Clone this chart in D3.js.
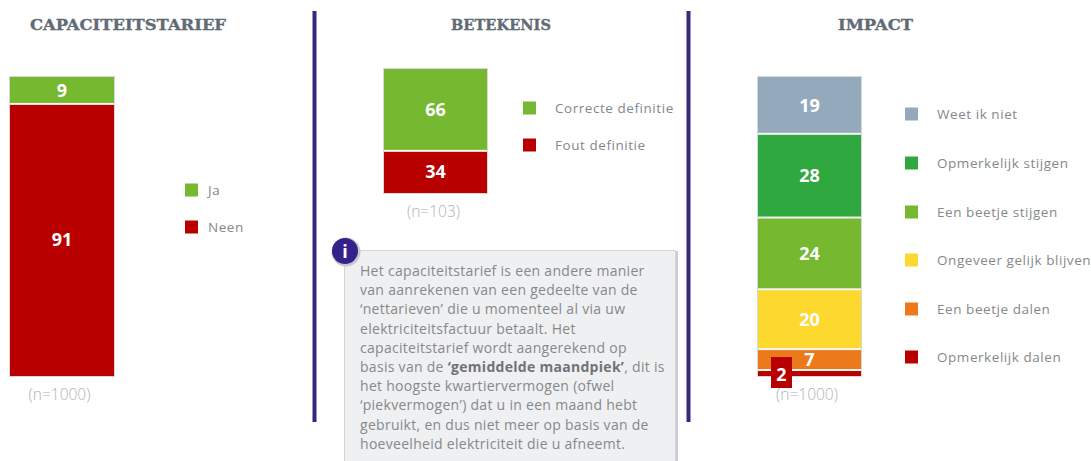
<!DOCTYPE html>
<html><head><meta charset="utf-8">
<script src="https://cdnjs.cloudflare.com/ajax/libs/d3/7.8.5/d3.min.js"></script>
<style>
html,body{margin:0;padding:0;background:#fff;overflow:hidden}
svg{display:block}
text{font-family:"Open Sans",sans-serif}
</style></head><body><svg id="c" width="1091" height="461"></svg>
<script>
const titles = ["CAPACITEITSTARIEF","BETEKENIS","IMPACT"];
const cat1 = ["Ja","Neen"];
const val1 = [9,91];
const cat2 = ["Correcte definitie","Fout definitie"];
const val2 = [66,34];
const cat3 = ["Weet ik niet","Opmerkelijk stijgen","Een beetje stijgen","Ongeveer gelijk blijven","Een beetje dalen","Opmerkelijk dalen"];
const val3 = [19,28,24,20,7,2];
const ns = ["(n=1000)","(n=103)","(n=1000)"];
const colors = {"Ja":"#76b82f","Neen":"#b90000","Correcte definitie":"#76b82f","Fout definitie":"#b90000",
 "Weet ik niet":"#95a9bd","Opmerkelijk stijgen":"#2ea83f","Een beetje stijgen":"#76b82f",
 "Ongeveer gelijk blijven":"#fdd82e","Een beetje dalen":"#ec7a1c","Opmerkelijk dalen":"#b90000"};
const infoLines = [
 [["Het capaciteitstarief is een andere manier",0]],
 [["van aanrekenen van een gedeelte van de",0]],
 [["‘nettarieven’ die u momenteel al via uw",0]],
 [["elektriciteitsfactuur betaalt. Het",0]],
 [["capaciteitstarief wordt aangerekend op",0]],
 [["basis van de ",0],["‘gemiddelde maandpiek’",1],[", dit is",0]],
 [["het hoogste kwartiervermogen (ofwel",0]],
 [["‘piekvermogen’) dat u in een maand hebt",0]],
 [["gebruikt, en dus niet meer op basis van de",0]],
 [["hoeveelheid elektriciteit die u afneemt.",0]]
];

const svg = d3.select("#c");
const grey="#83888c";

// titles
[[128,titles[0],196],[501,titles[1],100],[875.5,titles[2],75]].forEach(([x,t,w])=>{
  svg.append("text").attr("x",x).attr("y",30).attr("text-anchor","middle")
   .attr("textLength",w).attr("lengthAdjust","spacingAndGlyphs")
   .style("font-family","'DejaVu Serif',serif").style("font-weight","700").style("font-size","15.5px")
   .attr("stroke","#616b74").attr("stroke-width",0.35)
   .attr("fill","#616b74").text(t);
});
// dividers
[314.5,688.5].forEach(x=>svg.append("rect").attr("x",x-2).attr("y",11).attr("width",4).attr("height",411).attr("fill","#35287f"));

function stackedBar(cfg){
  const {cats,vals,x0,x1,y0,y1,legX,legYs,nLabel,nY,nX,textX}=cfg;
  const y=d3.scaleLinear().domain([0,100]).range([y0,y1]);
  const row={}; cats.forEach((c,i)=>row[c]=vals[i]);
  const series=d3.stack().keys(cats)([row]);
  svg.append("rect").attr("x",x0-0.5).attr("y",y0-0.5).attr("width",x1-x0+1).attr("height",y1-y0+1)
     .attr("fill","#f4f6f1").attr("stroke","#d6d9d6").attr("stroke-width",1);
  const g=svg.append("g");
  const last=series.length-1;
  g.selectAll("rect").data(series).join("rect")
    .attr("x",x0).attr("width",x1-x0)
    .attr("y",d=>y(d[0][0])+(d.index>0?1:0))
    .attr("height",d=>y(d[0][1])-y(d[0][0])-(d.index>0?1:0)-(d.index<last?1:0))
    .attr("fill",d=>colors[d.key]);
  g.selectAll("text").data(series.filter(d=>d[0][1]-d[0][0]>=cfg.minLabel)).join("text")
    .attr("x",(x0+x1)/2).attr("y",d=>(y(d[0][0])+y(d[0][1]))/2+6.5)
    .attr("text-anchor","middle").attr("fill","#fff")
    .style("font-size","18px").style("font-weight","700")
    .text(d=>d[0][1]-d[0][0]);
  const leg=svg.append("g").selectAll("g").data(cats).join("g")
    .attr("transform",(d,i)=>`translate(${legX},${legYs[i]})`);
  leg.append("rect").attr("x",0).attr("y",-6.5).attr("width",13).attr("height",13).attr("fill",d=>colors[d]);
  leg.append("text").attr("x",textX-legX).attr("y",5).attr("fill",grey)
    .style("font-size","13.5px").style("letter-spacing","0.55px").text(d=>d);
  svg.append("text").attr("x",nX).attr("y",nY).attr("text-anchor","middle")
    .attr("fill","#aeb2b5").style("font-size","15.5px").style("font-weight","300").text(nLabel);
  return y;
}
stackedBar({cats:cat1,vals:val1,x0:10,x1:114,y0:77,y1:376,legX:185,textX:208,legYs:[190,227],nLabel:ns[0],nY:400,nX:59.5,minLabel:3});
stackedBar({cats:cat2,vals:val2,x0:384,x1:487,y0:69,y1:193,legX:523,textX:555,legYs:[108,145],nLabel:ns[1],nY:217,nX:433.5,minLabel:3});
const y3=stackedBar({cats:cat3,vals:val3,x0:758,x1:861,y0:77,y1:376,legX:905,textX:937,legYs:[114,163,212,260,309,357],nLabel:ns[2],nY:400,nX:807,minLabel:3});

// small-value callout
const last=val3.length-1;
const lastY=y3(d3.sum(val3.slice(0,last)));
svg.append("rect").attr("x",771).attr("y",lastY-13).attr("width",21).attr("height",31).attr("fill",colors[cat3[last]]);
svg.append("text").attr("x",781.5).attr("y",lastY+11).attr("text-anchor","middle").attr("fill","#fff")
  .style("font-size","18px").style("font-weight","700").text(val3[last]);

// info box
svg.append("rect").attr("x",347).attr("y",251).attr("width",331).attr("height",212).attr("fill","#c9ccd4");
svg.append("rect").attr("x",344.5).attr("y",250.5).attr("width",331).attr("height",212).attr("fill","#eff0f1").attr("stroke","#d4d6d8");
infoLines.forEach((parts,i)=>{
  const t=svg.append("text").attr("x",360).attr("y",276+i*19.2).attr("fill","#85898d")
    .style("font-size","14px").style("letter-spacing","0.29px");
  parts.forEach(([s,b])=>t.append("tspan").style("font-weight",b?"700":"400").attr("fill",b?"#6f7377":"#85898d").text(s));
});
svg.append("circle").attr("cx",346).attr("cy",252).attr("r",14.5).attr("fill","#c6c8cc");
svg.append("circle").attr("cx",345).attr("cy",251).attr("r",13).attr("fill","#35218a");
svg.append("text").attr("x",345).attr("y",257.5).attr("text-anchor","middle").attr("fill","#fff")
  .style("font-size","18px").style("font-weight","700").text("i");
</script></body></html>
